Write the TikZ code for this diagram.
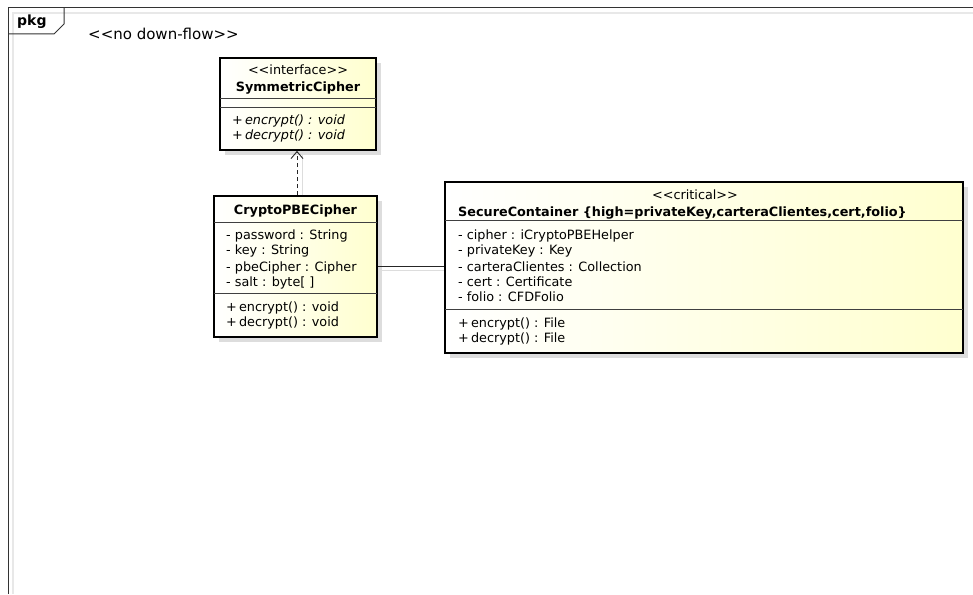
\documentclass[tikz,border=0pt]{standalone}
\usepackage{fontspec}
\setmainfont{DejaVu Sans}
\usetikzlibrary{arrows.meta}
\definecolor{paleyellow}{HTML}{FFFFCF}
\definecolor{shadowgray}{HTML}{DDDDDD}
\definecolor{frameshadow}{HTML}{E8E8E8}
\definecolor{framegray}{HTML}{333333}
\begin{document}
\begin{tikzpicture}[x=1pt,y=-1pt,
  classbox/.style={draw=black, line width=1.8pt, rectangle, inner sep=0pt,
    left color=white, right color=paleyellow},
  sepline/.style={draw=black!75, line width=0.8pt},
  txt/.style={inner sep=0pt, anchor=base west, font=\fontsize{12.8}{15}\selectfont},
  ctxt/.style={inner sep=0pt, anchor=base, font=\fontsize{12.8}{15}\selectfont},
  btxt/.style={ctxt, font=\fontsize{12.8}{15}\selectfont\bfseries},
  assoc/.style={draw=black!85, line width=0.9pt},
  realize/.style={draw=black!85, line width=0.9pt, dash pattern=on 4pt off 3pt,
    -{Straight Barb[length=7pt,width=12pt,line width=0.9pt]}},
  connshadow/.style={draw=shadowgray, line width=1pt},
]
\useasboundingbox (0,0) rectangle (973,594);

% package frame and its tab
\draw[frameshadow, line width=2pt] (13,594) -- (13,13) -- (973,13);
\draw[framegray, line width=1pt] (8,594) -- (8,8) -- (973,8);
\draw[framegray, line width=1pt] (8,34) -- (54,34) -- (64,24) -- (64,8);
\node[inner sep=0pt, anchor=base west, font=\fontsize{14}{16}\selectfont\bfseries] (pkg) at (17,26) {pkg};
\node[inner sep=0pt, anchor=base west, font=\fontsize{15}{17}\selectfont] (flow) at (88,40) {<{}<no down-flow>{}>};

% shadows
\fill[shadowgray] (225,63) rectangle (381,155);
\fill[shadowgray] (219,201) rectangle (382,342);
\fill[shadowgray] (450,187) rectangle (968,358);

% SymmetricCipher
\node[classbox, minimum width=156pt, minimum height=92pt] (sym) at (298,104) {};
\draw[sepline] (220,98) -- (376,98);
\draw[sepline] (220,107) -- (376,107);
\node[ctxt] (symst) at (298,74.5) {<{}<interface>{}>};
\node[btxt] (symname) at (298,91) {SymmetricCipher};
\node[txt] (symm1) at (232,124.5) {+\,\textit{encrypt() : void}};
\node[txt] (symm2) at (232,139.5) {+\,\textit{decrypt() : void}};

% CryptoPBECipher
\node[classbox, minimum width=163pt, minimum height=141pt] (crypto) at (295.5,266.5) {};
\draw[sepline] (214,222) -- (377,222);
\draw[sepline] (214,293) -- (377,293);
\node[btxt] (cryptoname) at (295.5,214.5) {CryptoPBECipher};
\node[txt] (ca1) at (226,239.5) {- password : String};
\node[txt] (ca2) at (226,254.5) {- key : String};
\node[txt] (ca3) at (226,271) {- pbeCipher : Cipher};
\node[txt] (ca4) at (226,286) {- salt : byte[ ]};
\node[txt] (cm1) at (226,311) {+\,encrypt() : void};
\node[txt] (cm2) at (226,326.5) {+\,decrypt() : void};

% SecureContainer
\node[classbox, minimum width=518pt, minimum height=171pt] (secure) at (704,267.5) {};
\draw[sepline] (445,220) -- (963,220);
\draw[sepline] (445,309) -- (963,309);
\node[ctxt] (securest) at (695,199) {<{}<critical>{}>};
\node[btxt, anchor=base west] (securename) at (458,216.5) {SecureContainer \{high=privateKey,carteraClientes,cert,folio\}};
\node[txt] (sa1) at (458,239.5) {- cipher : iCryptoPBEHelper};
\node[txt] (sa2) at (458,254.5) {- privateKey : Key};
\node[txt] (sa3) at (458,271) {- carteraClientes : Collection};
\node[txt] (sa4) at (458,286) {- cert : Certificate};
\node[txt] (sa5) at (458,301.5) {- folio : CFDFolio};
\node[txt] (sm1) at (458,327.5) {+\,encrypt() : File};
\node[txt] (sm2) at (458,342.5) {+\,decrypt() : File};

% connector shadows
\begin{scope}[on background layer/.try]
\draw[connshadow] ([xshift=6.5pt]crypto.north) -- ([xshift=6.5pt]crypto.north |- sym.south);
\draw[connshadow] ([yshift=-4pt]crypto.east) -- ([yshift=-4pt]crypto.east -| secure.west);
\end{scope}

% connectors
\draw[realize] ([xshift=1.5pt]crypto.north) -- ([xshift=1.5pt]crypto.north |- sym.south);
\draw[assoc] (crypto.east) -- (crypto.east -| secure.west);
\end{tikzpicture}
\end{document}
